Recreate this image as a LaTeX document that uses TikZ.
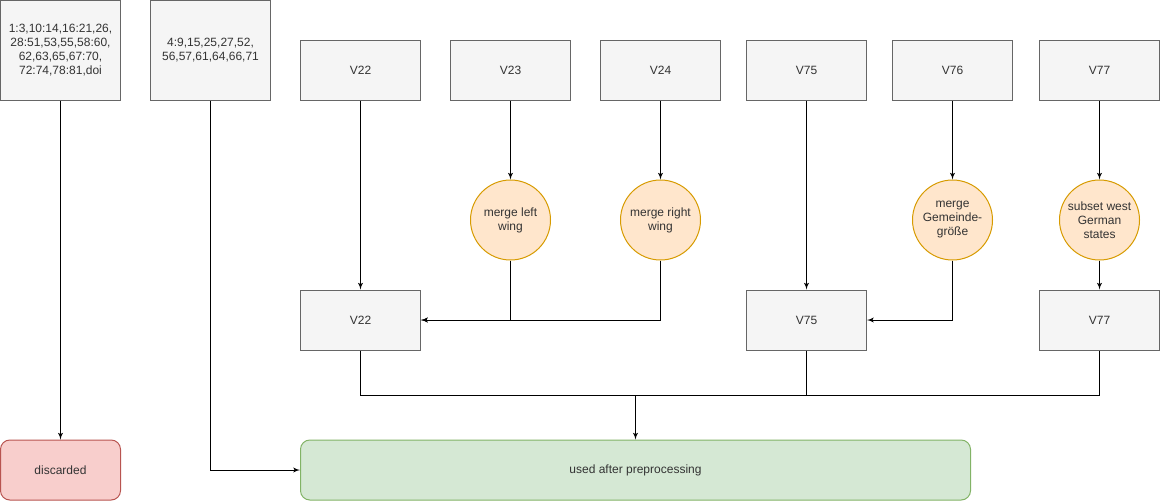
\documentclass[tikz,border=0pt]{standalone}
\usepackage{fontspec}
\setmainfont{Liberation Sans}
\usepackage{tikz}
\usetikzlibrary{arrows}

\definecolor{boxfill}{HTML}{F5F5F5}
\definecolor{boxline}{HTML}{666666}
\definecolor{boxtext}{HTML}{333333}
\definecolor{opfill}{HTML}{FFE6CC}
\definecolor{opline}{HTML}{D79B00}
\definecolor{dropfill}{HTML}{F8CECC}
\definecolor{dropline}{HTML}{B85450}
\definecolor{usefill}{HTML}{D5E8D4}
\definecolor{useline}{HTML}{82B366}

\begin{document}
\begin{tikzpicture}[x=0.75pt, y=-0.75pt, font=\fontsize{9}{10.5}\selectfont]
			\tikzset{var/.style={shape = rectangle, draw = boxline, fill = boxfill, text = boxtext, line width = 0.75pt, minimum width = 90pt, minimum height = 45pt, inner sep = 0pt, align = center}}
			\tikzset{cols/.style={var, minimum height = 75pt}}
			\tikzset{op/.style={shape = circle, draw = opline, fill = opfill, text = boxtext, line width = 0.75pt, minimum size = 60pt, inner sep = 0pt, align = center}}
			\tikzset{result/.style={shape = rectangle, rounded corners = 7pt, line width = 0.75pt, minimum height = 45pt, inner sep = 0pt, text = boxtext}}
			\tikzset{edge/.style={->, > = latex', line width = 0.75pt}}
			\useasboundingbox (0, 0) rectangle (1160, 501);
			%columns
			\node[cols] (drop) at (60.5, 50) {1:3,10:14,16:21,26,\\28:51,53,55,58:60,\\62,63,65,67:70,\\72:74,78:81,doi};
			\node[cols] (keep) at (210.5, 50) {4:9,15,25,27,52,\\56,57,61,64,66,71};
			%variables
			\node[var] (v22) at (360.5, 70) {V22};
			\node[var] (v23) at (510.5, 70) {V23};
			\node[var] (v24) at (660.5, 70) {V24};
			\node[var] (v75) at (806.5, 70) {V75};
			\node[var] (v76) at (952.5, 70) {V76};
			\node[var] (v77) at (1099.5, 70) {V77};
			%operations
			\node[op] (left) at (510.5, 220) {merge left\\wing};
			\node[op] (right) at (660.5, 220) {merge right\\wing};
			\node[op] (gem) at (952.5, 220) {merge\\Gemeinde-\\größe};
			\node[op] (west) at (1099.5, 220) {subset west\\German\\states};
			%new variables
			\node[var] (n22) at (360.5, 320) {V22};
			\node[var] (n75) at (806.5, 320) {V75};
			\node[var] (n77) at (1099.5, 320) {V77};
			%results
			\node[result, draw = dropline, fill = dropfill, minimum width = 90pt] (gone) at (60.5, 470) {discarded};
			\node[result, draw = useline, fill = usefill, minimum width = 502.5pt] (used) at (635.5, 470) {used after preprocessing};
			\coordinate (join) at (635.5, 395);
			%edges
			\draw[edge] (drop) -- (gone);
			\draw[edge] (keep) |- (used);
			\draw[edge] (v22) -- (n22);
			\draw[edge] (v23) -- (left);
			\draw[edge] (v24) -- (right);
			\draw[edge] (left) |- (n22);
			\draw[edge] (right) |- (n22);
			\draw[edge] (v75) -- (n75);
			\draw[edge] (v76) -- (gem);
			\draw[edge] (gem) |- (n75);
			\draw[edge] (v77) -- (west);
			\draw[edge] (west) -- (n77);
			\draw[line width = 0.75pt] (n22) |- (join) -| (n77);
			\draw[line width = 0.75pt] (n75) |- (join);
			\draw[edge] (join) -- (used);
		\end{tikzpicture}
\end{document}
